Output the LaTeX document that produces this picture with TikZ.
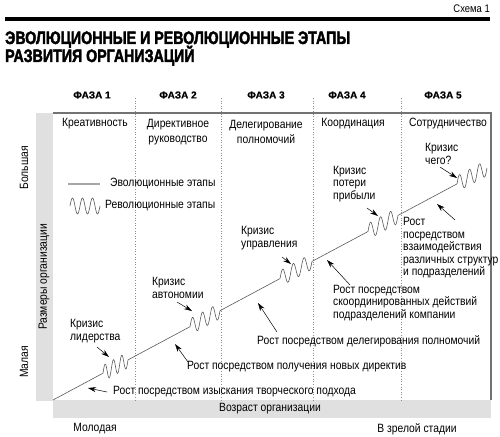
\documentclass[tikz,border=0pt]{standalone}
\usepackage{fontspec}
\setmainfont{Liberation Sans}[FakeStretch=0.86]
\newfontfamily\headfont{Liberation Sans}[FakeStretch=0.79,BoldFeatures={FakeBold=2.2}]
\newfontfamily\widefont{Liberation Sans}[BoldFeatures={FakeBold=0.8}]
\usetikzlibrary{arrows.meta,calc}

\begin{document}
\begin{tikzpicture}
[x=1pt,y=-1pt,
every node/.style={inner sep=0pt,font=\fontsize{12}{12.5}\selectfont},
lbl/.style={anchor=west,align=left},
stage/.style={align=center,font=\fontsize{12}{15}\selectfont},
phase/.style={font=\widefont\bfseries\fontsize{10}{10}\selectfont},
evo/.style={draw=black!65,line width=.6pt},
legevo/.style={draw=black!35,line width=1.2pt},
rev/.style={evo,to path={let \p1=(\tikztostart),\p2=(\tikztotarget) in
  plot[variable=\t,domain=0:1,samples=73,smooth]
  ({\x1+(\x2-\x1)*\t},{\y1+(\y2-\y1)*\t+8pt*sin(1080*\t)})}},
ptr/.style={draw=black,line width=.5pt,-{Stealth[length=8pt,width=5pt]}},
div/.style={draw=black!45,dotted,line width=.6pt},
frame/.style={draw=black!55,line width=1.5pt},
bar/.style={fill=black!12}]
\useasboundingbox (0,0) rectangle (500,436);

\node[anchor=base east,font=\fontsize{11}{11}\selectfont] (scheme) at (490,13) {Схема 1};
\draw[line width=3.5pt] (5,19) -- (490,19);
\node[anchor=base west,font=\headfont\bfseries\fontsize{18}{18}\selectfont] (title1) at (5,44) {ЭВОЛЮЦИОННЫЕ И РЕВОЛЮЦИОННЫЕ ЭТАПЫ};
\node[anchor=base west,font=\headfont\bfseries\fontsize{18}{18}\selectfont] (title2) at (5,62) {РАЗВИТИЯ ОРГАНИЗАЦИЙ};

\node[phase] (ph1) at (92,95) {ФАЗА 1};
\node[phase] (ph2) at (178,95) {ФАЗА 2};
\node[phase] (ph3) at (266,95) {ФАЗА 3};
\node[phase] (ph4) at (347,95) {ФАЗА 4};
\node[phase] (ph5) at (443,95) {ФАЗА 5};

\fill[bar] (36,113) rectangle (53,401);
\fill[bar] (53,400) rectangle (491,418);
\foreach \x in {135,221,313,401}
\draw[div] (\x,98) -- (\x,400);
\draw[frame] (53,113) -- (491,113) -- (491,400);

\node[stage] (st1) at (95,124) {Креативность};
\node[stage] (st2) at (178,132) {Директивное\\руководство};
\node[stage] (st3) at (266,132) {Делегирование\\полномочий};
\node[stage] (st4) at (353,124) {Координация};
\node[stage] (st5) at (448,124) {Сотрудничество};

\node[rotate=90] (big) at (24,168) {Большая};
\node[rotate=90] (size) at (44,277) {Размеры организации};
\node[rotate=90] (small) at (24,362) {Малая};
\node (age) at (270,409) {Возраст организации};
\node (young) at (95,429) {Молодая};
\node (mature) at (417,429) {В зрелой стадии};

\coordinate (le1) at (68,184);
\coordinate (le2) at (100,184);
\coordinate (lr1) at (70,206);
\coordinate (lr2) at (100,206);
\draw[legevo] (le1) -- (le2);
\node[lbl] (levo) at (110,184) {Эволюционные этапы};
\node[lbl] (lrev) at (105,206) {Революционные этапы};

\coordinate (o) at (53,400);
\coordinate (w1a) at (103,373.2);
\coordinate (w1b) at (128,359.9);
\coordinate (w2a) at (190,326.7);
\coordinate (w2b) at (220,310.7);
\coordinate (w3a) at (280,278.6);
\coordinate (w3b) at (312,261.4);
\coordinate (w4a) at (368,231.5);
\coordinate (w4b) at (398,215.4);
\coordinate (w5a) at (457,183.9);
\coordinate (w5b) at (487,167.8);
\foreach \from/\to in {o/w1a,w1b/w2a,w2b/w3a,w3b/w4a,w4b/w5a}
\draw[evo] (\from) -- (\to);
\foreach \from/\to in {w1a/w1b,w2a/w2b,w3a/w3b,w4a/w4b,w5a/w5b,lr1/lr2}
\draw[rev] (\from) to (\to);

\node[lbl] (kr1) at (70,331) {Кризис\\лидерства};
\node[lbl] (kr2) at (152,288) {Кризис\\автономии};
\node[lbl] (kr3) at (241,238) {Кризис\\управления};
\node[lbl] (kr4) at (333,184) {Кризис\\потери\\прибыли};
\node[lbl] (kr5) at (425,154) {Кризис\\чего?};

\node[lbl] (gr1) at (113,392) {Рост посредством изыскания творческого подхода};
\node[lbl] (gr2) at (187,367) {Рост посредством получения новых директив};
\node[lbl] (gr3) at (257,341) {Рост посредством делегирования полномочий};
\node[lbl] (gr4) at (333,303) {Рост посредством\\скоординированных действий\\подразделений компании};
\node[lbl] (gr5) at (403,248) {Рост\\посредством\\взаимодействия\\различных структур\\и подразделений};

\coordinate (k1a) at (97,347);  \coordinate (k1b) at (109,357);
\coordinate (k2a) at (177,302); \coordinate (k2b) at (192,311);
\coordinate (k3a) at (282,257); \coordinate (k3b) at (291,264);
\coordinate (k4a) at (367,208); \coordinate (k4b) at (378,216);
\coordinate (k5a) at (440,167); \coordinate (k5b) at (457,178);
\coordinate (g1a) at (107,392); \coordinate (g1b) at (88,388);
\coordinate (g2a) at (188,362); \coordinate (g2b) at (175,344);
\coordinate (g3a) at (277,332); \coordinate (g3b) at (258,303);
\coordinate (g4a) at (350,285); \coordinate (g4b) at (327,260);
\coordinate (g5a) at (455,220); \coordinate (g5b) at (437,204);
\foreach \from/\to in {k1a/k1b,k2a/k2b,k3a/k3b,k4a/k4b,k5a/k5b,g1a/g1b,g2a/g2b,g3a/g3b,g4a/g4b,g5a/g5b}
\draw[ptr] (\from) -- (\to);
\end{tikzpicture}
\end{document}
